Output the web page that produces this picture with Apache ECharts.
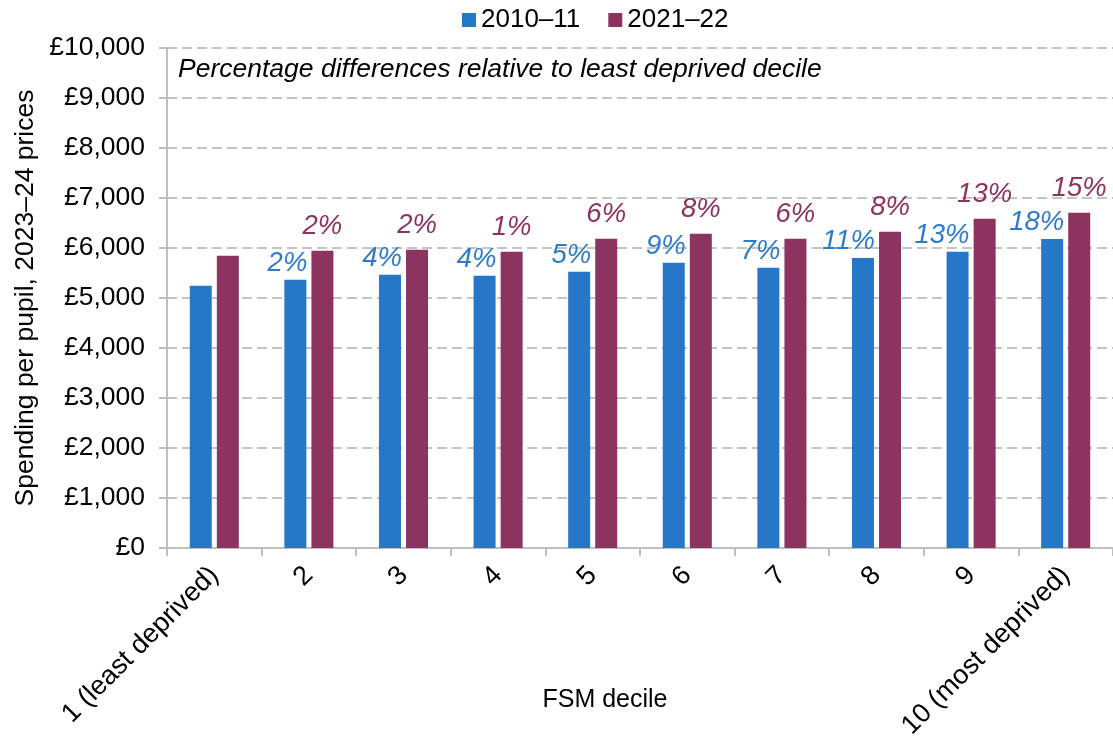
<!DOCTYPE html>
<html>
<head>
<meta charset="utf-8">
<script src="https://cdn.jsdelivr.net/npm/echarts@6/dist/echarts.min.js"></script>
<style>
  html, body { margin: 0; padding: 0; background: #fff; }
  #chart { width: 1113px; height: 736px; }
</style>
</head>
<body>
<div id="chart"></div>
<script>
{
    /* data */
    const deciles = ['1 (least deprived)', '2', '3', '4', '5', '6', '7', '8', '9', '10 (most deprived)'];
    const spend2010 = [5245, 5365, 5465, 5445, 5525, 5705, 5605, 5800, 5925, 6180];
    const spend2021 = [5845, 5945, 5965, 5925, 6185, 6285, 6185, 6325, 6585, 6705];
    const pct2010 = ['', '2%', '4%', '4%', '5%', '9%', '7%', '11%', '13%', '18%'];
    const pct2021 = ['', '2%', '2%', '1%', '6%', '8%', '6%', '8%', '13%', '15%'];
    const yTicks = [0, 10000, 1000]; // min, max, step

    const font = 'Liberation Sans, Arial, sans-serif';
    const blue = '#2677C7';
    const plum = '#8D3360';

    const chart = echarts.init(document.getElementById('chart'));

    const option = {
        backgroundColor: '#fff',
        textStyle: { fontFamily: font },
        legend: {
            top: 7,
            left: 462,
            padding: 0,
            itemWidth: 14,
            itemHeight: 14,
            itemGap: 28,
            icon: 'rect',
            textStyle: { fontSize: 26, color: '#000', fontFamily: font },
            data: ['2010–11', '2021–22']
        },
        grid: { left: 167, right: 0, top: 48, bottom: 188, outerBoundsMode: 'none' },
        graphic: [{
            type: 'text',
            left: 178,
            top: 56,
            style: {
                text: 'Percentage differences relative to least deprived decile',
                font: 'italic 26.5px ' + font,
                fill: '#000'
            }
        }],
        xAxis: {
            type: 'category',
            data: deciles,
            name: 'FSM decile',
            nameLocation: 'middle',
            nameGap: 140,
            nameMoveOverlap: false,
            nameTextStyle: { fontSize: 25, color: '#000', padding: [0, 70, 0, 0] },
            axisLine: { lineStyle: { color: '#bfbfbf', width: 2 } },
            axisTick: { show: true, length: 8, lineStyle: { color: '#bfbfbf', width: 2 } },
            axisLabel: { rotate: 45, fontSize: 27, color: '#000', margin: 23, interval: 0 }
        },
        yAxis: {
            type: 'value',
            min: yTicks[0],
            max: yTicks[1],
            interval: yTicks[2],
            name: 'Spending per pupil, 2023–24 prices',
            nameLocation: 'middle',
            nameGap: 128,
            nameMoveOverlap: false,
            nameTextStyle: { fontSize: 26.5, color: '#000' },
            axisLine: { show: true, lineStyle: { color: '#bfbfbf', width: 2 } },
            axisTick: { show: true, length: 8, lineStyle: { color: '#bfbfbf', width: 2 } },
            axisLabel: {
                fontSize: 26.5, color: '#000', margin: 22,
                formatter: v => '£' + v.toLocaleString('en-GB')
            },
            splitLine: { lineStyle: { color: '#c4c4c4', width: 2, type: [10, 5] } }
        },
        series: [
            {
                name: '2010–11',
                type: 'bar',
                data: spend2010,
                barWidth: 22,
                barGap: '23%',
                itemStyle: { color: blue },
                label: {
                    show: true,
                    position: 'top',
                    distance: 3,
                    align: 'right',
                    offset: [12, 0],
                    fontSize: 27.5,
                    fontStyle: 'italic',
                    color: '#2E7BCB',
                    formatter: p => pct2010[p.dataIndex]
                }
            },
            {
                name: '2021–22',
                type: 'bar',
                data: spend2021,
                barWidth: 22,
                itemStyle: { color: plum },
                label: {
                    show: true,
                    position: 'top',
                    distance: 4,
                    offset: [0, -7],
                    fontSize: 27.5,
                    fontStyle: 'italic',
                    color: plum,
                    formatter: p => pct2021[p.dataIndex]
                }
            }
        ]
    };

    chart.setOption(option);
}
</script>
</body>
</html>
